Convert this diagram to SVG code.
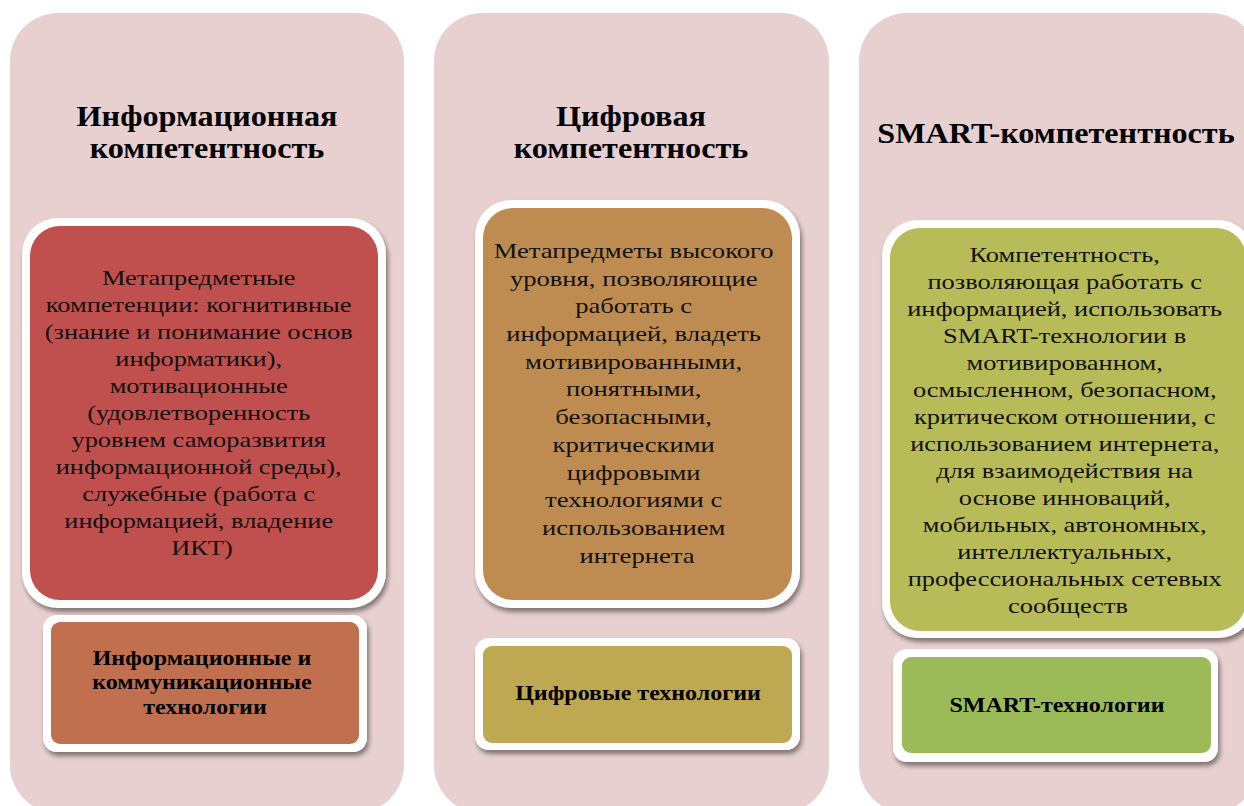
<svg xmlns="http://www.w3.org/2000/svg" width="1244" height="806" viewBox="0 0 1244 806">
<defs>
<filter id="sh" x="-10%" y="-10%" width="130%" height="130%">
<feGaussianBlur in="SourceAlpha" stdDeviation="2.5"/>
<feOffset dx="2" dy="4" result="b"/>
<feComponentTransfer><feFuncA type="linear" slope="0.45"/></feComponentTransfer>
<feMerge><feMergeNode/><feMergeNode in="SourceGraphic"/></feMerge>
</filter>
</defs>
<style>
.panel{fill:#E8D0D0}
.frame{fill:#FFFFFF;filter:url(#sh)}
.title{font-family:"Liberation Serif",serif;font-weight:bold;font-size:29px;fill:#000;text-anchor:middle}
.body{font-family:"Liberation Serif",serif;font-size:22px;fill:#111;text-anchor:middle}
.lab{font-family:"Liberation Serif",serif;font-weight:bold;font-size:20px;fill:#000;text-anchor:middle}
</style>
<rect width="1244" height="806" fill="#FFFFFF"/>

<g id="panel-info">
<rect class="panel" x="10" y="13" width="394" height="800" rx="48"/>
<g transform="translate(207,0) scale(1.11,1)">
<text class="title" x="0" y="126">Информационная</text>
<text class="title" x="0" y="158">компетентность</text>
</g>
</g>
<g id="panel-digital">
<rect class="panel" x="434" y="13" width="395" height="800" rx="48"/>
<g transform="translate(631,0) scale(1.11,1)">
<text class="title" x="0" y="126">Цифровая</text>
<text class="title" x="0" y="158">компетентность</text>
</g>
</g>
<g id="panel-smart">
<rect class="panel" x="859" y="13" width="400" height="800" rx="48"/>
<g transform="translate(1056,0) scale(1.11,1)">
<text class="title" x="0" y="143">SMART-компетентность</text>
</g>
</g>

<g id="box-info">
<rect class="frame" x="22" y="218" width="364" height="390" rx="36"/>
<rect x="30" y="226" width="348" height="374" rx="30" fill="#C0504D"/>
<g transform="translate(202,0) scale(1.2,1)">
<text class="body">
<tspan x="0" y="285">Метапредметные</tspan>
<tspan x="0" y="312">компетенции: когнитивные</tspan>
<tspan x="0" y="339">(знание и понимание основ</tspan>
<tspan x="0" y="366">информатики),</tspan>
<tspan x="0" y="393">мотивационные</tspan>
<tspan x="0" y="420">(удовлетворенность</tspan>
<tspan x="0" y="447">уровнем саморазвития</tspan>
<tspan x="0" y="474">информационной среды),</tspan>
<tspan x="0" y="501">служебные (работа с</tspan>
<tspan x="0" y="528">информацией, владение</tspan>
<tspan x="0" y="555">ИКТ)</tspan>
</text>
</g>
</g>

<g id="box-digital">
<rect class="frame" x="475" y="200" width="325" height="408" rx="36"/>
<rect x="483" y="208" width="309" height="392" rx="30" fill="#BE8C50"/>
<g transform="translate(637,0) scale(1.21,1)">
<text class="body">
<tspan x="0" y="258">Метапредметы высокого</tspan>
<tspan x="0" y="285.7">уровня, позволяющие</tspan>
<tspan x="0" y="313.4">работать с</tspan>
<tspan x="0" y="341.1">информацией, владеть</tspan>
<tspan x="0" y="368.8">мотивированными,</tspan>
<tspan x="0" y="396.5">понятными,</tspan>
<tspan x="0" y="424.2">безопасными,</tspan>
<tspan x="0" y="451.9">критическими</tspan>
<tspan x="0" y="479.6">цифровыми</tspan>
<tspan x="0" y="507.3">технологиями с</tspan>
<tspan x="0" y="535">использованием</tspan>
<tspan x="0" y="562.7">интернета</tspan>
</text>
</g>
</g>

<g id="box-smart">
<rect class="frame" x="882" y="220" width="372" height="418" rx="36"/>
<rect x="890" y="228" width="356" height="403" rx="30" fill="#B8BC58"/>
<g transform="translate(1068,0) scale(1.2,1)">
<text class="body">
<tspan x="0" y="262">Компетентность,</tspan>
<tspan x="0" y="289">позволяющая работать с</tspan>
<tspan x="0" y="316">информацией, использовать</tspan>
<tspan x="0" y="343">SMART-технологии в</tspan>
<tspan x="0" y="370">мотивированном,</tspan>
<tspan x="0" y="397">осмысленном, безопасном,</tspan>
<tspan x="0" y="424">критическом отношении, с</tspan>
<tspan x="0" y="451">использованием интернета,</tspan>
<tspan x="0" y="478">для взаимодействия на</tspan>
<tspan x="0" y="505">основе инноваций,</tspan>
<tspan x="0" y="532">мобильных, автономных,</tspan>
<tspan x="0" y="559">интеллектуальных,</tspan>
<tspan x="0" y="586">профессиональных сетевых</tspan>
<tspan x="0" y="613">сообществ</tspan>
</text>
</g>
</g>

<g id="tech-info">
<rect class="frame" x="43" y="615" width="324" height="137" rx="14"/>
<rect x="51" y="622" width="308" height="122" rx="9" fill="#C0704F"/>
<g transform="translate(205,0) scale(1.2,1)">
<text class="lab">
<tspan x="0" y="665">Информационные и</tspan>
<tspan x="0" y="689.5">коммуникационные</tspan>
<tspan x="0" y="714">технологии</tspan>
</text>
</g>
</g>

<g id="tech-digital">
<rect class="frame" x="475" y="638" width="325" height="112" rx="14"/>
<rect x="483" y="646" width="309" height="97" rx="9" fill="#BEA852"/>
<g transform="translate(638,0) scale(1.2,1)">
<text class="lab" x="0" y="700">Цифровые технологии</text>
</g>
</g>

<g id="tech-smart">
<rect class="frame" x="893" y="649" width="325" height="113" rx="14"/>
<rect x="902" y="657" width="309" height="96" rx="9" fill="#9BBB59"/>
<g transform="translate(1057,0) scale(1.2,1)">
<text class="lab" x="0" y="712">SMART-технологии</text>
</g>
</g>

<g id="connectors"></g>
</svg>
